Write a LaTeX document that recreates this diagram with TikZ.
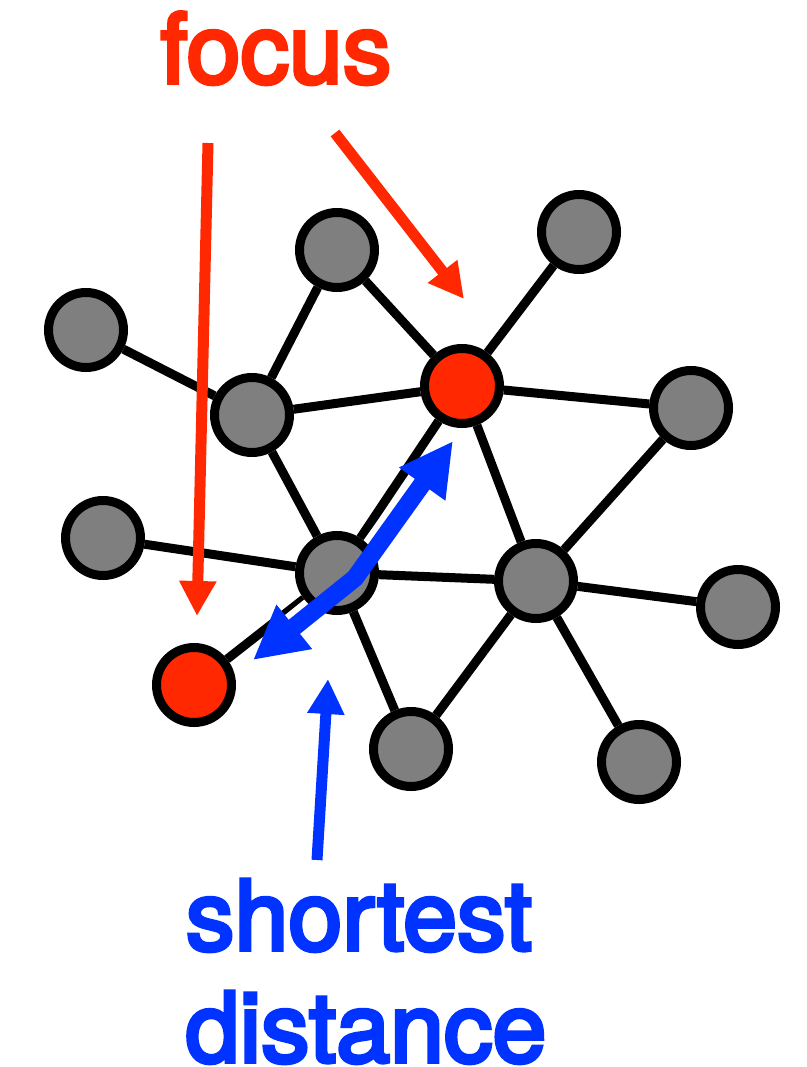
\documentclass[tikz,border=0pt]{standalone}
\usepackage{fontspec}
\setmainfont{TeX Gyre Heros}[FakeBold=4]
\usetikzlibrary{arrows.meta,backgrounds}
\definecolor{hotred}{RGB}{255,40,0}
\definecolor{vividblue}{RGB}{0,51,255}
\definecolor{nodegray}{RGB}{127,127,127}
\begin{document}
\begin{tikzpicture}[x=1pt,y=-1pt,
  vertex/.style={circle,draw=black,line width=9pt,fill=nodegray,minimum size=75pt,inner sep=0pt},
  focusvertex/.style={vertex,fill=hotred},
  link/.style={draw=black,line width=9pt},
  redarrow/.style={draw=hotred,line width=11pt,-{Triangle[length=35pt,width=35pt]}},
  bluearrow/.style={draw=vividblue,line width=11pt,-{Triangle[length=35pt,width=35pt]}},
  pathhalo/.style={draw=white,line width=30pt,shorten <=40pt,shorten >=40pt},
  pathline/.style={draw=vividblue,line width=18pt,line join=miter,
    {Triangle[length=53pt,width=53pt]}-{Triangle[length=53pt,width=53pt]}},
  biglabel/.style={font=\fontsize{97}{113}\selectfont,inner sep=0pt,anchor=base}
]
\useasboundingbox (0,0) rectangle (806,1067);

% vertices
\node[vertex]      (a) at (337,250) {};
\node[vertex]      (b) at (579,232) {};
\node[vertex]      (c) at (86,330)  {};
\node[vertex]      (d) at (252,415) {};
\node[focusvertex] (e) at (462,386) {};
\node[vertex]      (f) at (691,408) {};
\node[vertex]      (g) at (103,538) {};
\node[vertex]      (h) at (337,573) {};
\node[vertex]      (i) at (536,581) {};
\node[vertex]      (j) at (738,607) {};
\node[focusvertex] (k) at (194,685) {};
\node[vertex]      (l) at (411,749) {};
\node[vertex]      (m) at (639,762) {};

% shortest path between the two focus vertices
\coordinate (pathK) at (253,660);
\coordinate (pathbend) at (355,578);
\coordinate (pathE) at (453,441);

% edges and the white gap around the path, behind the vertices
\begin{scope}[on background layer]
  \draw[link] (a) -- (d);
  \draw[link] (a) -- (e);
  \draw[link] (c) -- (d);
  \draw[link] (d) -- (e);
  \draw[link] (d) -- (h);
  \draw[link] (e) -- (b);
  \draw[link] (e) -- (f);
  \draw[link] (e) -- (h);
  \draw[link] (e) -- (i);
  \draw[link] (f) -- (i);
  \draw[link] (g) -- (h);
  \draw[link] (h) -- (i);
  \draw[link] (h) -- (k);
  \draw[link] (h) -- (l);
  \draw[link] (i) -- (l);
  \draw[link] (i) -- (j);
  \draw[link] (i) -- (m);
  \path[pathhalo] (pathK) -- (pathbend) -- (pathE);
\end{scope}

\path[pathline] (pathK) -- (pathbend) -- (pathE);

% labels
\node[biglabel,text=hotred] (focus) at (276,83) {focus};
\node[biglabel,text=vividblue] (shortest) at (359,950) {shortest};
\node[biglabel,text=vividblue] (distance) at (366,1062) {distance};

% pointers
\coordinate (focusleft)  at (208,143);
\coordinate (focusleftT) at (197,616);
\coordinate (focusright)  at (335,133);
\coordinate (focusrightT) at (464,299);
\coordinate (distfrom) at (317,860);
\coordinate (distto)   at (328,679);
\draw[redarrow] (focusleft) -- (focusleftT);
\draw[redarrow] (focusright) -- (focusrightT);
\draw[bluearrow] (distfrom) -- (distto);
\end{tikzpicture}
\end{document}
